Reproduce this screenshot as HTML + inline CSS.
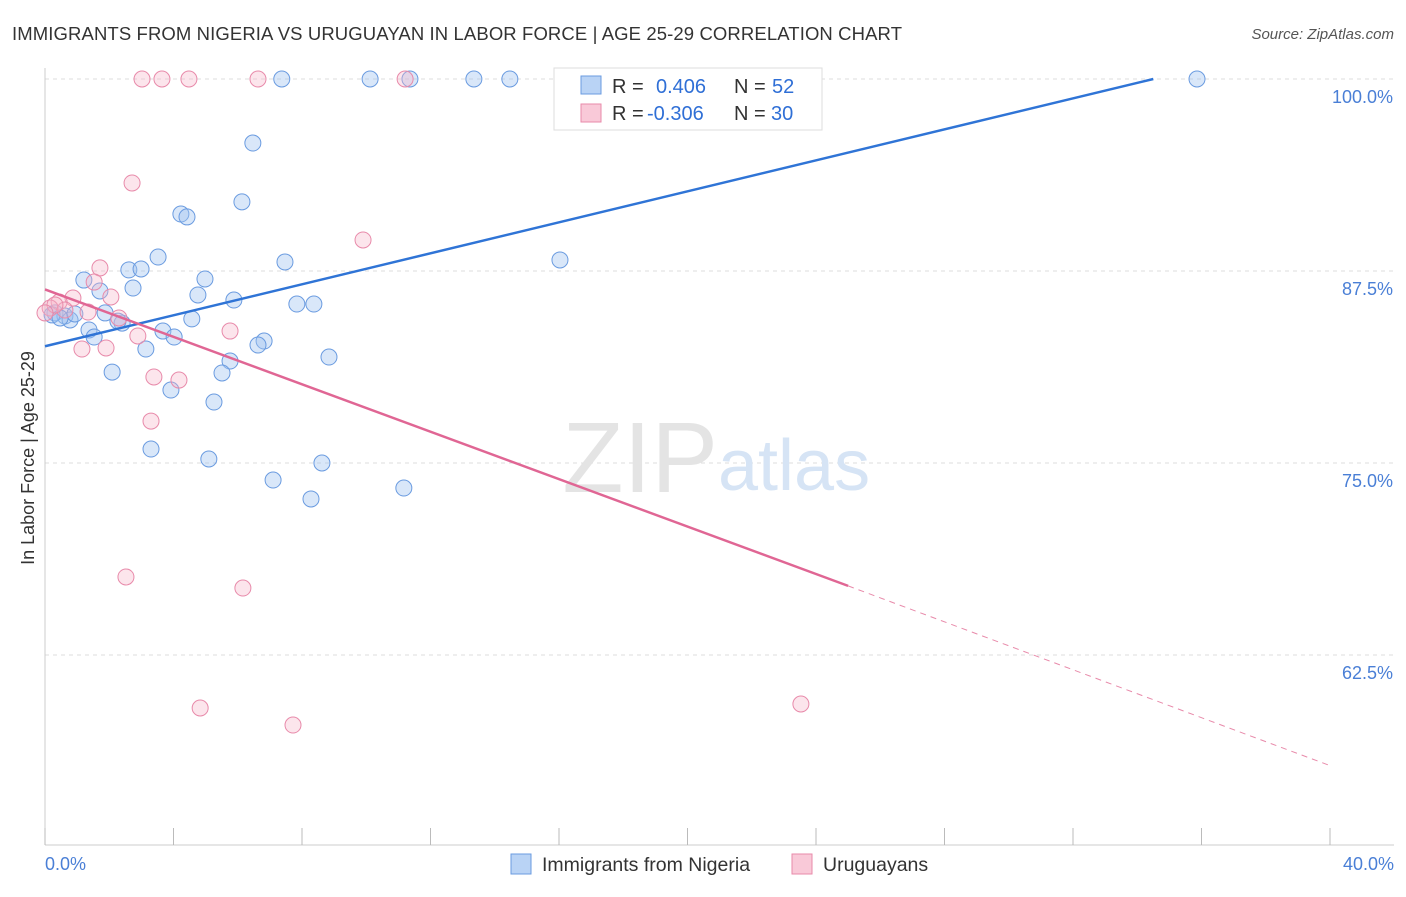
<!DOCTYPE html>
<html><head><meta charset="utf-8"><style>
body{margin:0;background:#fff;font-family:"Liberation Sans",sans-serif;}
svg text{font-family:"Liberation Sans",sans-serif;}
</style></head><body>
<svg id="chart" width="1406" height="892">
<text x="12" y="40" font-size="18.5" fill="#333" textLength="890">IMMIGRANTS FROM NIGERIA VS URUGUAYAN IN LABOR FORCE | AGE 25-29 CORRELATION CHART</text>
<text x="1394" y="39" font-size="15" fill="#555" font-style="italic" text-anchor="end">Source: ZipAtlas.com</text>
<text x="34" y="458" font-size="18" fill="#333" text-anchor="middle" transform="rotate(-90 34 458)">In Labor Force | Age 25-29</text>
<g id="grid"></g>
<text x="718" y="492" font-size="100" fill="#e4e4e4" font-family="Liberation Serif" text-anchor="end">ZIP</text>
<text x="718" y="490" font-size="72" fill="#d6e4f5">atlas</text>
<g id="pts"></g>
<g id="lines"></g>
<g>
<rect x="554" y="68" width="268" height="62" fill="#fff" stroke="#ddd"/>
<rect x="581" y="76" width="20" height="18" fill="#b9d3f5" stroke="#6a9be0"/>
<rect x="581" y="104" width="20" height="18" fill="#f9c9d8" stroke="#e88aaa"/>
<text x="612" y="93" font-size="20" fill="#333">R = <tspan x="656" fill="#2f6fd6">0.406</tspan><tspan x="734">N = </tspan><tspan x="772" fill="#2f6fd6">52</tspan></text>
<text x="612" y="120" font-size="20" fill="#333">R = <tspan x="647" fill="#2f6fd6">-0.306</tspan><tspan x="734">N = </tspan><tspan x="771" fill="#2f6fd6">30</tspan></text>
</g>
<g>
<rect x="511" y="854" width="20" height="20" fill="#b9d3f5" stroke="#6a9be0"/>
<text x="542" y="871" font-size="19.5" fill="#333">Immigrants from Nigeria</text>
<rect x="792" y="854" width="20" height="20" fill="#f9c9d8" stroke="#e88aaa"/>
<text x="823" y="871" font-size="19.5" fill="#333">Uruguayans</text>
</g>
<text x="45" y="870" font-size="18" fill="#4a7fd6">0.0%</text>
<text x="1394" y="870" font-size="18" fill="#4a7fd6" text-anchor="end">40.0%</text>
</svg>
<script>
const yTicks=[100,87.5,75,62.5];
const xTicks=[0,4,8,12,16,20,24,28,32,36,40];
const blueX=[7.37,10.12,11.36,13.35,14.47,35.86,6.47,6.13,4.23,4.42,3.52,2.61,2.99,7.47,16.03,1.21,4.98,2.74,1.71,4.76,5.88,7.84,8.37,1.87,4.57,0.31,0.62,0.78,2.40,3.67,1.37,1.53,4.02,6.82,6.63,3.14,8.84,5.76,2.09,5.51,3.92,5.26,3.30,5.10,8.62,7.10,11.17,8.28,0.22,0.47,0.93,2.27];
const blueY=[100,100,100,100,100,100,95.83,92.0,91.21,91.02,88.41,87.57,87.63,88.09,88.22,86.91,86.98,86.39,86.20,85.94,85.61,85.35,85.35,84.77,84.38,84.77,84.57,84.31,84.11,83.59,83.66,83.20,83.20,82.94,82.68,82.42,81.90,81.64,80.92,80.86,79.75,78.97,75.91,75.26,75.0,73.89,73.37,72.66,84.64,84.44,84.70,84.24];
const pinkX=[3.02,3.64,4.48,6.63,11.21,2.71,9.90,1.71,1.53,2.05,0.87,0.44,0.16,1.34,2.30,5.76,2.89,1.15,1.90,3.39,4.17,3.30,2.52,6.16,4.83,7.72,23.53,0.62,0.31,0.0];
const pinkY=[100,100,100,100,100,93.23,89.52,87.70,86.78,85.81,85.74,85.48,85.09,84.83,84.44,83.59,83.27,82.42,82.49,80.60,80.40,77.73,67.58,66.86,59.05,57.94,59.31,84.96,85.29,84.77];
const blueLine=[0,82.6,34.5,100];
const pinkLine=[0,86.3,25,67.0,40,55.3];
const NS='http://www.w3.org/2000/svg';
const X=v=>45+v*32.125, Y=v=>79+(100-v)*15.36;
const g=id=>document.getElementById(id);
function mk(t,a,p){const e=document.createElementNS(NS,t);for(const k in a)e.setAttribute(k,a[k]);p.appendChild(e);return e;}
yTicks.forEach(t=>{
 const l=mk('line',{x1:45,x2:1394,y1:Y(t),y2:Y(t),stroke:'#ddd','stroke-dasharray':'4,4'},g('grid'));
 
 
 const tx=mk('text',{x:1393,y:Y(t)+24,'font-size':18,fill:'#4a7fd6','text-anchor':'end'},g('grid'));
 tx.textContent=t.toFixed(1)+'%';
 
 
});
mk('line',{x1:45,x2:45,y1:68,y2:845,stroke:'#ccc'},g('grid'));
mk('line',{x1:45,x2:1394,y1:845,y2:845,stroke:'#ccc'},g('grid'));
xTicks.forEach(t=>{
 const l=mk('line',{x1:X(t),x2:X(t),y1:828,y2:845,stroke:'#bbb'},g('grid'));
 
 
});
blueX.forEach((x,i)=>{
 const c=mk('circle',{cx:X(x),cy:Y(blueY[i]),r:8,fill:'rgba(160,196,240,0.4)',stroke:'#6a9be0','stroke-width':1},g('pts'));
 
 
});
pinkX.forEach((x,i)=>{
 const c=mk('circle',{cx:X(x),cy:Y(pinkY[i]),r:8,fill:'rgba(245,180,200,0.35)',stroke:'#e88aaa','stroke-width':1},g('pts'));
 
 
});
const bl=mk('line',{x1:X(blueLine[0]),y1:Y(blueLine[1]),x2:X(blueLine[2]),y2:Y(blueLine[3]),stroke:'#2f74d6','stroke-width':2.5},g('lines'));


const pl=mk('line',{x1:X(pinkLine[0]),y1:Y(pinkLine[1]),x2:X(pinkLine[2]),y2:Y(pinkLine[3]),stroke:'#e06694','stroke-width':2.5},g('lines'));


const pd=mk('line',{x1:X(pinkLine[2]),y1:Y(pinkLine[3]),x2:X(pinkLine[4]),y2:Y(pinkLine[5]),stroke:'#e88aaa','stroke-width':1,'stroke-dasharray':'6,5'},g('lines'));


</script>
</body></html>
